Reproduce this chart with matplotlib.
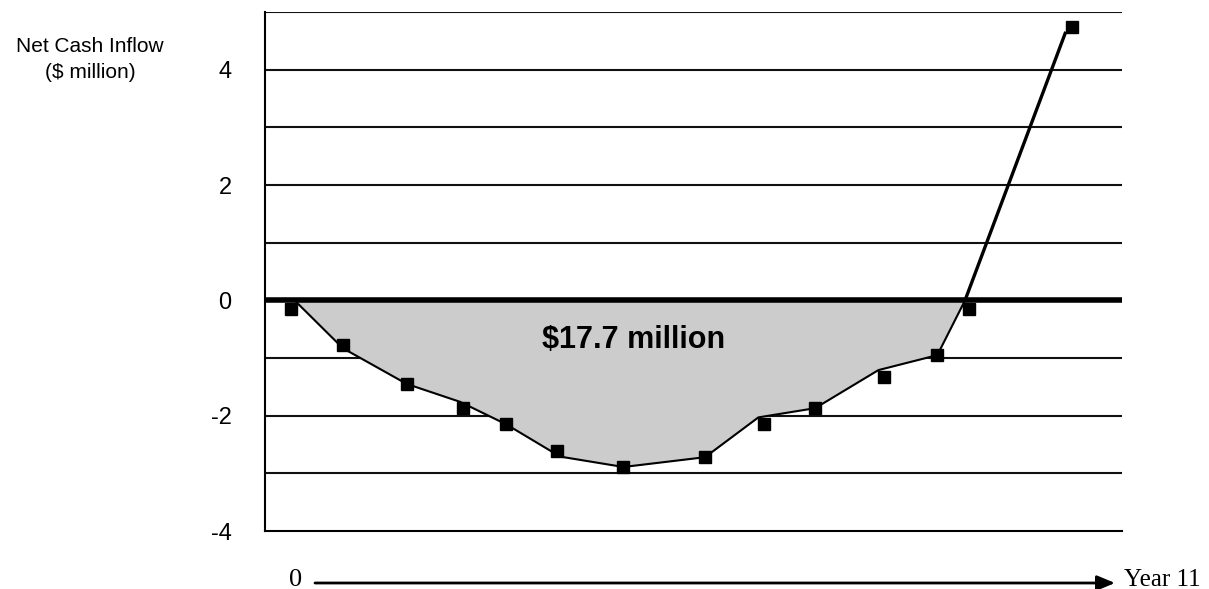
import numpy as np
import matplotlib.pyplot as plt

# cumulative cash line (years, $ million)
line_x = [0.05, 0.73, 1.63, 2.38, 3.03, 3.79, 4.68, 5.83, 6.58, 7.38, 8.27, 9.10, 9.49, 10.90]
line_y = [0.0, -0.83, -1.45, -1.76, -2.15, -2.71, -2.89, -2.72, -2.03, -1.87, -1.21, -0.95, 0.0, 4.63]

# square markers
mark_x = [0, 0.73, 1.63, 2.42, 3.03, 3.75, 4.68, 5.83, 6.66, 7.38, 8.35, 9.10, 9.54, 11.0]
mark_y = [-0.15, -0.77, -1.45, -1.87, -2.15, -2.62, -2.89, -2.72, -2.15, -1.87, -1.33, -0.95, -0.15, 4.74]

yticks = [-4, -2, 0, 2, 4]
grid_vals = [-3, -2, -1, 1, 2, 3, 4, 5]

W, H = 1209, 589
fig = plt.figure(figsize=(W/100, H/100), dpi=100)
ax = fig.add_axes([265/W, 1-531/H, (1122-265)/W, (531-12)/H])

ax.set_xlim(-0.366, 11.70)
ax.set_ylim(-4, 5)

for g in grid_vals:
    ax.axhline(g, color='#111111', lw=1.5, zorder=1)
ax.axhline(0, color='black', lw=4, zorder=4)

# shaded area under zero (first 13 vertices)
ax.fill_between(line_x[:13], line_y[:13], 0, color='#cccccc', lw=0, zorder=2)
ax.plot(line_x[:13], line_y[:13], color='black', lw=1.5, zorder=3)
ax.plot(line_x[12:], line_y[12:], color='black', lw=2.4, zorder=3)
ax.plot(mark_x, mark_y, ls='none', marker='s', ms=9.3, color='black', zorder=5)

ax.text(4.83, -0.69, '$17.7 million', ha='center', va='center',
        fontsize=22, fontweight='bold', family='Liberation Sans', zorder=6)

for s in ['top', 'right']:
    ax.spines[s].set_visible(False)
ax.spines['left'].set_linewidth(1.5)
ax.spines['bottom'].set_linewidth(1.5)
ax.set_xticks([])
ax.set_yticks(yticks)
ax.set_yticklabels([str(t) for t in yticks], family='Liberation Sans', fontsize=17)
ax.tick_params(axis='y', length=0, pad=24)

fig.text(90/W, 1-46/H, 'Net Cash Inflow', ha='center', va='center',
         fontsize=15, family='Liberation Sans')
fig.text(90/W, 1-73/H, '($ million)', ha='center', va='center',
         fontsize=15, family='Liberation Sans')

# time arrow under the plot
ay = 1-583/H
ax.annotate('', xy=(1115/W, ay), xytext=(315/W, ay), xycoords='figure fraction',
            textcoords='figure fraction',
            arrowprops=dict(arrowstyle='-|>,head_length=0.6,head_width=0.25',
                            mutation_scale=18, lw=2, color='black',
                            shrinkA=0, shrinkB=0))
fig.text(296/W, 1-580/H, '0', ha='center', va='center', fontsize=19, family='Liberation Serif')
fig.text(1124/W, 1-580/H, 'Year 11', ha='left', va='center', fontsize=18, family='Liberation Serif')

fig.savefig('out.png', dpi=100)
